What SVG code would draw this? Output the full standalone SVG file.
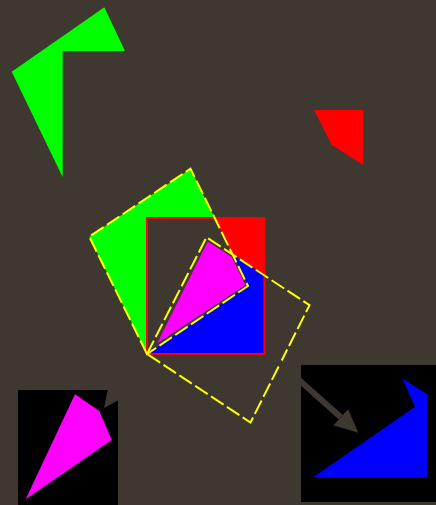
<svg xmlns="http://www.w3.org/2000/svg" width="436" height="505" viewBox="0 0 436 505">
  <defs>
    <style>
      .bg{fill:#3e3830}
      .box{fill:#000}
      .g{fill:#00ff00}
      .r{fill:#ff0000}
      .b{fill:#0000ff}
      .m{fill:#ff00ff}
      .outline{fill:none;stroke:#ffff00;stroke-width:2;stroke-dasharray:15 4}
      .conn{fill:none;stroke:#3e3830;stroke-width:6}
    </style>
    <marker id="ah" markerUnits="userSpaceOnUse" markerWidth="24" markerHeight="22" viewBox="0 -11 24 22" refX="0" refY="0" orient="auto">
      <path d="M0,-10.9 L23.4,0 L0,10.9 Z" fill="#3e3830"/>
    </marker>
  </defs>
  <rect class="bg" x="0" y="0" width="436" height="505"/>

  <g id="piece-green">
    <polygon class="g" points="104.3,7.3 125,51 62.7,51 62.7,177.3 11.7,71.7"/>
  </g>
  <g id="piece-red">
    <polygon class="r" points="314,110 363.3,110 363.3,165 331.7,145"/>
  </g>
  <g id="piece-magenta">
    <rect class="box" x="18" y="390" width="100" height="115"/>
    <polygon class="m" points="75,394.3 99.3,411 111.7,440 25.7,499.3"/>
  </g>
  <g id="piece-blue">
    <rect class="box" x="301" y="365" width="135" height="137"/>
    <polygon class="b" points="313.5,477 415,406.7 402.3,378.3 427,394.3 427,477"/>
  </g>

  <g id="composite">
    <polygon class="g" points="190.5,168.7 214.7,218 147,218 147,354 89.3,236.7"/>
    <polygon class="r" points="214.7,218 264.5,218 264.5,275.6 232.5,254.4"/>
    <polygon class="b" points="147,354 248,286 232.5,254.4 264.5,275.6 264.5,354"/>
    <rect x="147" y="218" width="117.5" height="136" fill="none" stroke="#ff0000" stroke-width="2"/>
    <polygon class="m" points="207.8,241.5 231.5,256.7 245.5,285 157.3,343.3"/>
    <polygon class="outline" points="147,354 89.3,236.7 190.5,168.7 248,286"/>
    <polygon class="outline" points="147,354 206.5,237.3 309.5,305.2 250.5,422.5"/>
  </g>

  <g id="connectors">
    <line class="conn" x1="272" y1="356" x2="340.8" y2="417.2" marker-end="url(#ah)"/>
    <line class="conn" x1="139.6" y1="360.5" x2="118" y2="389.3" marker-end="url(#ah)"/>
  </g>
</svg>
